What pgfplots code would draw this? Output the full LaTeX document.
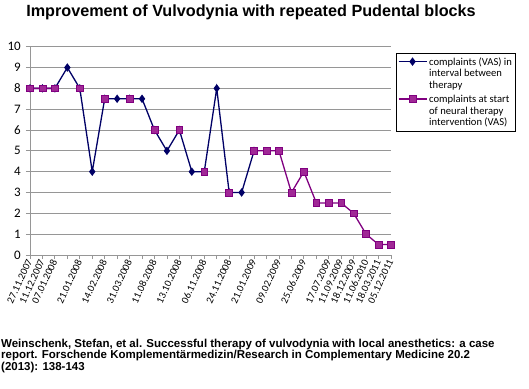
\documentclass[border=0pt]{standalone}
\usepackage{pgfplots}
\pgfplotsset{compat=1.18}
\usepackage{fontspec}
\setmainfont{Carlito}
\newfontfamily\arial{Liberation Sans}
\definecolor{navyline}{RGB}{0,0,102}
\definecolor{pinkline}{RGB}{128,0,128}
\definecolor{pinkfill}{RGB}{160,40,150}
\definecolor{gridgray}{RGB}{150,150,150}
\newcommand{\legfont}{\fontsize{10.6}{11.8}\selectfont}
\newcommand{\legthree}[3]{\legfont\vbox{\hbox{\strut#1}\hbox{\strut#2}\hbox{\strut#3}}}
\begin{document}
\begin{tikzpicture}
\path (0,0) rectangle (529pt,388pt);
\begin{axis}[
  at={(30pt,133pt)}, anchor=south west,
  scale only axis, width=361pt, height=208.3pt,
  xmin=0, xmax=29, ymin=0, ymax=10,
  clip=false,
  axis x line*=bottom, axis y line*=left,
  axis line style={gridgray, line width=0.8pt},
  xtick={0,...,29},
  xticklabels={27.11.2007,11.12.2007,07.01.2008,,21.01.2008,,14.02.2008,,31.03.2008,,11.08.2008,,13.10.2008,,06.11.2008,,24.11.2008,,21.01.2009,,09.02.2009,,25.06.2009,,17.07.2009,11.09.2009,18.12.2009,11.06.2010,18.03.2011,05.12.2011},
  ytick={0,1,...,10},
  yticklabel={\fontsize{13}{14}\selectfont\pgfmathprintnumber{\tick}},
  tick align=outside,
  major tick length=4pt,
  tick style={gridgray, line width=0.8pt},
  x tick label style={rotate=65, anchor=east, font=\fontsize{10.3}{12}\selectfont, inner sep=1pt},
  y tick label style={inner sep=2pt, xshift=-3pt},
  /pgf/number format/assume math mode=true,
  ymajorgrids, grid style={gridgray, line width=0.9pt},
  unbounded coords=jump,
  legend image code/.code={\draw[mark repeat=2,mark phase=2,#1] plot coordinates {(0pt,11.8pt)(14pt,11.8pt)(28pt,11.8pt)};},
  legend style={at={(1.014,0.97)}, anchor=north west, draw=black, line width=0.6pt, fill=white,
    cells={anchor=west}, inner sep=1.5pt, row sep=0pt},
]
\addplot[navyline, line width=1.3pt, mark=diamond*, mark size=3.2pt, mark options={solid, fill=navyline}]
coordinates {(0,8)(1,8)(2,8)(3,9)(4,8)(5,4)(6,7.5)(7,7.5)(8,7.5)(9,7.5)(10,6)(11,5)(12,6)(13,4)(14,4)(15,8)(16,3)(17,3)(18,5)};
\addlegendentry{\legthree{complaints (VAS) in}{interval between}{therapy}}
\addplot[pinkline, line width=1.3pt, mark=square*, mark size=3.4pt, mark options={solid, fill=pinkfill, draw=pinkline, line width=0.6pt}]
coordinates {(0,8)(1,8)(2,8)(3,nan)(4,8)(5,nan)(6,7.5)(7,nan)(8,7.5)(9,nan)(10,6)(11,nan)(12,6)(13,nan)(14,4)(15,nan)(16,3)(17,nan)(18,5)(19,5)(20,5)(21,3)(22,4)(23,2.5)(24,2.5)(25,2.5)(26,2)(27,1)(28,0.5)(29,0.5)};
\addlegendentry{\legthree{complaints at start}{of neural therapy}{intervention (VAS)}}
\end{axis}
\node[anchor=base, font=\arial\bfseries\fontsize{16.2}{19}\selectfont] at (251pt,371.3pt) {Improvement of Vulvodynia with repeated Pudental blocks};
\node[anchor=base west, inner sep=0pt, font=\arial\bfseries\fontsize{11.5}{13}\selectfont] at (1pt,41pt) {Weinschenk, Stefan, et al. Successful therapy of vulvodynia with local anesthetics: a case};
\node[anchor=base west, inner sep=0pt, font=\arial\bfseries\fontsize{11.5}{13}\selectfont] at (1pt,29.3pt) {report. Forschende Komplementärmedizin/Research in Complementary Medicine 20.2};
\node[anchor=base west, inner sep=0pt, font=\arial\bfseries\fontsize{11.5}{13}\selectfont] at (1pt,17.6pt) {(2013): 138-143};
\end{tikzpicture}
\end{document}
